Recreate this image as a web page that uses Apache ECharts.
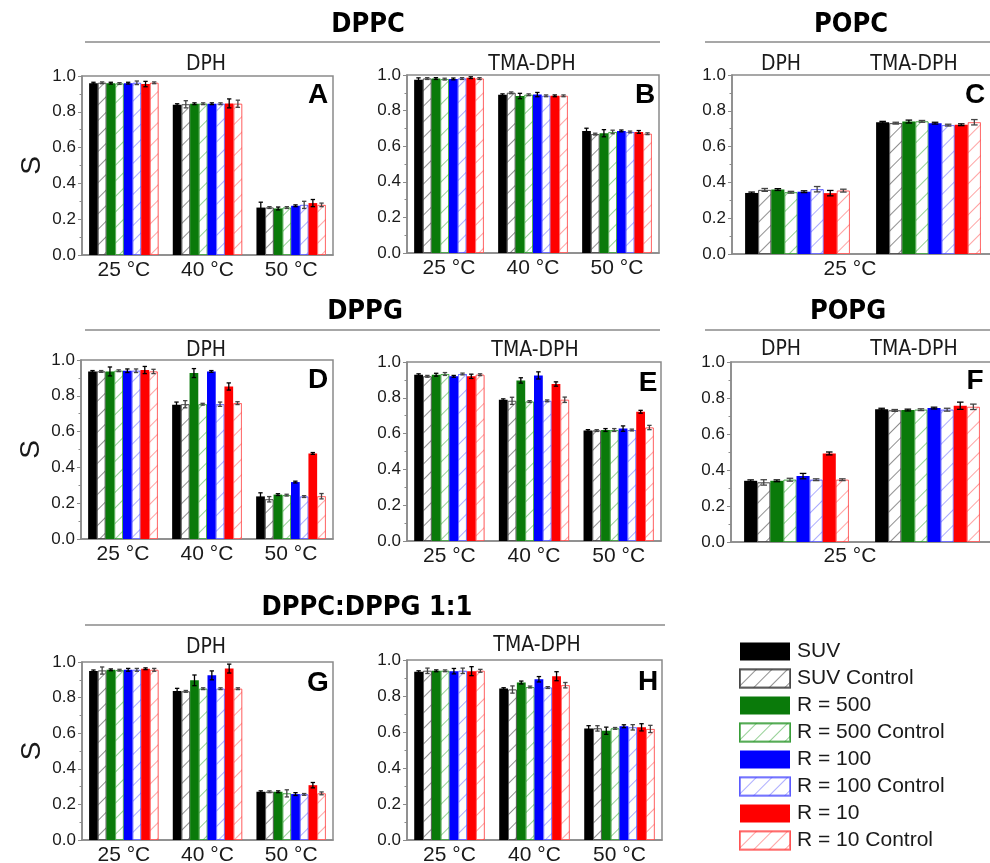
<!DOCTYPE html>
<html><head><meta charset="utf-8">
<script src="https://cdn.jsdelivr.net/npm/echarts@6/dist/echarts.min.js"></script>
<style>html,body{margin:0;padding:0;background:#fff}#c{width:990px;height:863px}</style>
</head><body><div id="c"></div>
<script>
// ---------- data ----------
const seriesNames = ['SUV','SUV Control','R = 500','R = 500 Control','R = 100','R = 100 Control','R = 10','R = 10 Control'];
const tempCategories = ['25 °C','40 °C','50 °C'];
const probeCategories = ['DPH','TMA-DPH'];
const yTickValues = [0, 0.2, 0.4, 0.6, 0.8, 1.0];

// rows follow seriesNames, columns follow the panel's categories
const valuesA = [[0.960,0.840,0.265],[0.962,0.842,0.265],[0.960,0.845,0.260],[0.958,0.845,0.265],[0.960,0.845,0.275],[0.962,0.845,0.280],[0.955,0.847,0.290],[0.962,0.845,0.280]];
const errorsA = [[0.005,0.005,0.030],[0.005,0.020,0.005],[0.005,0.005,0.008],[0.005,0.005,0.005],[0.005,0.005,0.005],[0.010,0.005,0.020],[0.015,0.025,0.020],[0.005,0.020,0.010]];
const valuesB = [[0.974,0.889,0.686],[0.980,0.900,0.668],[0.980,0.882,0.673],[0.977,0.889,0.680],[0.978,0.890,0.686],[0.980,0.883,0.680],[0.985,0.883,0.680],[0.980,0.883,0.670]];
const errorsB = [[0.010,0.005,0.015],[0.005,0.005,0.005],[0.005,0.015,0.020],[0.005,0.005,0.010],[0.005,0.012,0.005],[0.005,0.005,0.005],[0.005,0.005,0.008],[0.005,0.005,0.005]];
const valuesC = [[0.341,0.736],[0.358,0.731],[0.360,0.740],[0.345,0.741],[0.348,0.731],[0.362,0.720],[0.340,0.722],[0.354,0.736]];
const errorsC = [[0.005,0.005],[0.008,0.005],[0.005,0.008],[0.005,0.005],[0.005,0.005],[0.015,0.005],[0.015,0.005],[0.008,0.015]];
const valuesD = [[0.936,0.750,0.238],[0.936,0.753,0.222],[0.936,0.927,0.248],[0.940,0.753,0.245],[0.940,0.936,0.318],[0.940,0.753,0.237],[0.944,0.852,0.478],[0.936,0.759,0.239]];
const errorsD = [[0.005,0.015,0.020],[0.005,0.020,0.015],[0.025,0.025,0.005],[0.005,0.005,0.005],[0.010,0.005,0.005],[0.010,0.012,0.005],[0.020,0.020,0.005],[0.012,0.008,0.015]];
const valuesE = [[0.929,0.789,0.617],[0.920,0.783,0.617],[0.929,0.897,0.620],[0.933,0.779,0.620],[0.920,0.925,0.628],[0.933,0.783,0.620],[0.920,0.877,0.722],[0.929,0.789,0.634]];
const errorsE = [[0.005,0.005,0.005],[0.005,0.020,0.005],[0.008,0.015,0.008],[0.008,0.005,0.008],[0.005,0.020,0.015],[0.005,0.005,0.005],[0.012,0.012,0.008],[0.005,0.015,0.012]];
const valuesF = [[0.340,0.738],[0.331,0.731],[0.340,0.733],[0.346,0.735],[0.366,0.744],[0.346,0.735],[0.492,0.757],[0.346,0.751]];
const errorsF = [[0.005,0.005],[0.015,0.005],[0.005,0.005],[0.008,0.005],[0.015,0.005],[0.005,0.008],[0.008,0.020],[0.005,0.015]];
const valuesG = [[0.950,0.837,0.271],[0.952,0.835,0.271],[0.956,0.897,0.271],[0.954,0.850,0.262],[0.956,0.925,0.258],[0.956,0.850,0.256],[0.962,0.963,0.308],[0.956,0.850,0.262]];
const errorsG = [[0.005,0.015,0.005],[0.020,0.005,0.005],[0.005,0.030,0.005],[0.005,0.005,0.020],[0.008,0.025,0.008],[0.008,0.005,0.005],[0.005,0.025,0.015],[0.008,0.005,0.008]];
const valuesH = [[0.935,0.841,0.620],[0.940,0.836,0.620],[0.940,0.875,0.607],[0.940,0.850,0.620],[0.938,0.893,0.632],[0.940,0.847,0.626],[0.938,0.910,0.626],[0.940,0.860,0.617]];
const errorsH = [[0.005,0.005,0.015],[0.015,0.020,0.015],[0.005,0.008,0.020],[0.005,0.005,0.005],[0.015,0.015,0.008],[0.015,0.005,0.015],[0.025,0.025,0.020],[0.008,0.015,0.020]];

// ---------- style / layout ----------
const solidColors = ['#000000','#000000','#0a7a0a','#0a7a0a','#0000ff','#0000ff','#ff0000','#ff0000'];
const hatchColors = [null,'rgba(70,70,70,0.6)',null,'rgba(20,150,20,0.45)',null,'rgba(50,50,255,0.4)',null,'rgba(255,50,50,0.45)'];
const hatchBorders = [null,'rgba(60,60,60,0.75)',null,'rgba(20,140,20,0.6)',null,'rgba(50,50,255,0.55)',null,'rgba(255,50,50,0.6)'];
const frameColor = '#8a8a8a';
const txt = '#1a1a1a';
const narrow = '"Liberation Sans Narrow","DejaVu Sans Condensed","Arial Narrow",sans-serif';
const sans = 'Arial,"Liberation Sans",sans-serif';

const panels = [
  {label:'A', cats:tempCategories, vals:valuesA, errs:errorsA, left:82,  top:76,  width:251, height:179, gap:0.17, yName:true},
  {label:'B', cats:tempCategories, vals:valuesB, errs:errorsB, left:407, top:75,  width:252, height:178, gap:0.17},
  {label:'C', cats:probeCategories, vals:valuesC, errs:errorsC, left:732, top:75,  width:262, height:179, gap:0.20, probe:true},
  {label:'D', cats:tempCategories, vals:valuesD, errs:errorsD, left:81,  top:360, width:252, height:179, gap:0.17, yName:true},
  {label:'E', cats:tempCategories, vals:valuesE, errs:errorsE, left:407, top:362, width:254, height:179, gap:0.17},
  {label:'F', cats:probeCategories, vals:valuesF, errs:errorsF, left:731, top:362, width:262, height:180, gap:0.20, probe:true},
  {label:'G', cats:tempCategories, vals:valuesG, errs:errorsG, left:82,  top:662, width:251, height:178, gap:0.17, yName:true},
  {label:'H', cats:tempCategories, vals:valuesH, errs:errorsH, left:407, top:660, width:255, height:180, gap:0.17}
];

function makeErrRender(gap){
  return function(params, api){
    const ci = api.value(0), si = api.value(1), v = api.value(2), e = api.value(3);
    const catW = api.size([1, 0])[0];
    const bw = catW * (1 - gap) / 8;
    const cx = api.coord([ci, 0])[0] + (si - 3.5) * bw;
    const yt = api.coord([ci, v + e])[1], yb = api.coord([ci, v - e])[1];
    const cap = Math.max(3, bw * 0.5);
    const col = si % 2 ? '#444' : '#000';
    const st = {stroke: col, lineWidth: 1.3};
    return {type:'group', children:[
      {type:'line', shape:{x1:cx, y1:yt, x2:cx, y2:yb}, style:st},
      {type:'line', shape:{x1:cx-cap/2, y1:yt, x2:cx+cap/2, y2:yt}, style:st},
      {type:'line', shape:{x1:cx-cap/2, y1:yb, x2:cx+cap/2, y2:yb}, style:st}
    ]};
  };
}

const grids = [], xAxes = [], yAxes = [], series = [];
panels.forEach((p, gi) => {
  grids.push({left:p.left, top:p.top, width:p.width, height:p.height, show:true,
    borderColor:frameColor, borderWidth:1.5, backgroundColor:'transparent', outerBoundsMode:'none', containLabel:false});
  const xi = xAxes.length;
  xAxes.push({type:'category', gridIndex:gi, data:p.cats,
    axisTick:{show:false},
    axisLine:{show:true, lineStyle:{color:frameColor, width:1.5}},
    axisLabel:{show:!p.probe, fontSize:21, color:txt, fontFamily:sans, margin:5}});
  yAxes.push({type:'value', gridIndex:gi, min:0, max:1, interval:0.2,
    axisLine:{show:true, lineStyle:{color:frameColor, width:1.5}},
    axisTick:{show:true, length:4, lineStyle:{color:frameColor}},
    minorTick:{show:true, splitNumber:2, length:2.5, lineStyle:{color:frameColor}},
    splitLine:{show:false}, minorSplitLine:{show:false},
    axisLabel:{fontSize:17, color:txt, fontFamily:sans, margin:6,
      formatter: v => (yTickValues.indexOf(+v.toFixed(1)) >= 0 ? v.toFixed(1) : '')},
    name: p.yName ? 'S' : '', nameLocation:'middle', nameRotate:90, nameGap:36,
    nameTextStyle:{fontSize:28, color:txt, fontFamily:sans}});
  seriesNames.forEach((name, si) => {
    const hatched = si % 2 === 1;
    const itemStyle = hatched ? {
      color:'#ffffff', borderColor:hatchBorders[si], borderWidth:1,
      decal:{symbol:'rect', symbolSize:1, color:hatchColors[si], backgroundColor:'#ffffff',
        dashArrayX:[1,0], dashArrayY:[1,10], rotation:-Math.PI/4}
    } : {color:solidColors[si]};
    series.push({type:'bar', name, xAxisIndex:xi, yAxisIndex:gi, barGap:'0%',
      barCategoryGap:(p.gap*100)+'%', itemStyle, emphasis:{disabled:true},
      data:p.vals[si]});
  });
  const errData = [];
  p.vals.forEach((row, si) => row.forEach((v, ci) => errData.push([ci, si, v, p.errs[si][ci]])));
  series.push({type:'custom', name:'err'+p.label, xAxisIndex:xi, yAxisIndex:gi, z:5, clip:false,
    encode:{x:0, y:2}, renderItem:makeErrRender(p.gap), data:errData, silent:true});
});

// ---------- static text / decorations ----------
const graphics = [];
function heading(text, cx, cy, x1, x2, ly){
  graphics.push({type:'text', x:cx, y:cy, style:{text, font:'bold 27px '+narrow, fill:'#000', align:'center', verticalAlign:'middle'}});
  graphics.push({type:'line', shape:{x1, y1:ly, x2, y2:ly}, style:{stroke:frameColor, lineWidth:1.5}});
}
heading('DPPC', 368, 25, 85, 660, 42);
heading('POPC', 851, 25, 705, 990, 42);
heading('DPPG', 365, 312, 85, 660, 330);
heading('POPG', 848, 312, 705, 990, 330);
heading('DPPC:DPPG 1:1', 367, 608, 85, 665, 625);
function sub(text, cx, cy, size){
  graphics.push({type:'text', x:cx, y:cy, style:{text, font:(size||21)+'px '+narrow, fill:txt, align:'center', verticalAlign:'middle'}});
}
sub('DPH', 206, 65); sub('TMA-DPH', 532, 65);
sub('DPH', 781, 65); sub('TMA-DPH', 914, 65);
sub('DPH', 206, 351); sub('TMA-DPH', 535, 351);
sub('DPH', 781, 350); sub('TMA-DPH', 914, 350);
sub('DPH', 206, 648); sub('TMA-DPH', 537, 646);
function catLabel(text, cx, cy){
  graphics.push({type:'text', x:cx, y:cy, style:{text, font:'21px '+sans, fill:txt, align:'center', verticalAlign:'middle'}});
}
catLabel(tempCategories[0], 850, 269);
catLabel(tempCategories[0], 850, 556);
const letterPos = [[318,95],[645,95],[975,95],[318,380],[648,383],[975,381],[318,683],[648,682]];
panels.forEach((p, i) => {
  graphics.push({type:'text', x:letterPos[i][0], y:letterPos[i][1], style:{text:p.label, font:'900 28px "Liberation Sans",Arial,sans-serif', fill:'#000', align:'center', verticalAlign:'middle'}});
});

const chart = echarts.init(document.getElementById('c'), null, {renderer:'canvas'});
chart.setOption({
  animation:false,
  backgroundColor:'#ffffff',
  grid:grids, xAxis:xAxes, yAxis:yAxes, series,
  legend:{data:seriesNames, orient:'vertical', left:734, top:636, itemWidth:50, itemHeight:18, itemGap:6,
    icon:'rect', textStyle:{fontSize:21, color:txt, fontFamily:sans, padding:[0,0,0,2]}, selectedMode:false},
  graphic:graphics
});
</script></body></html>
